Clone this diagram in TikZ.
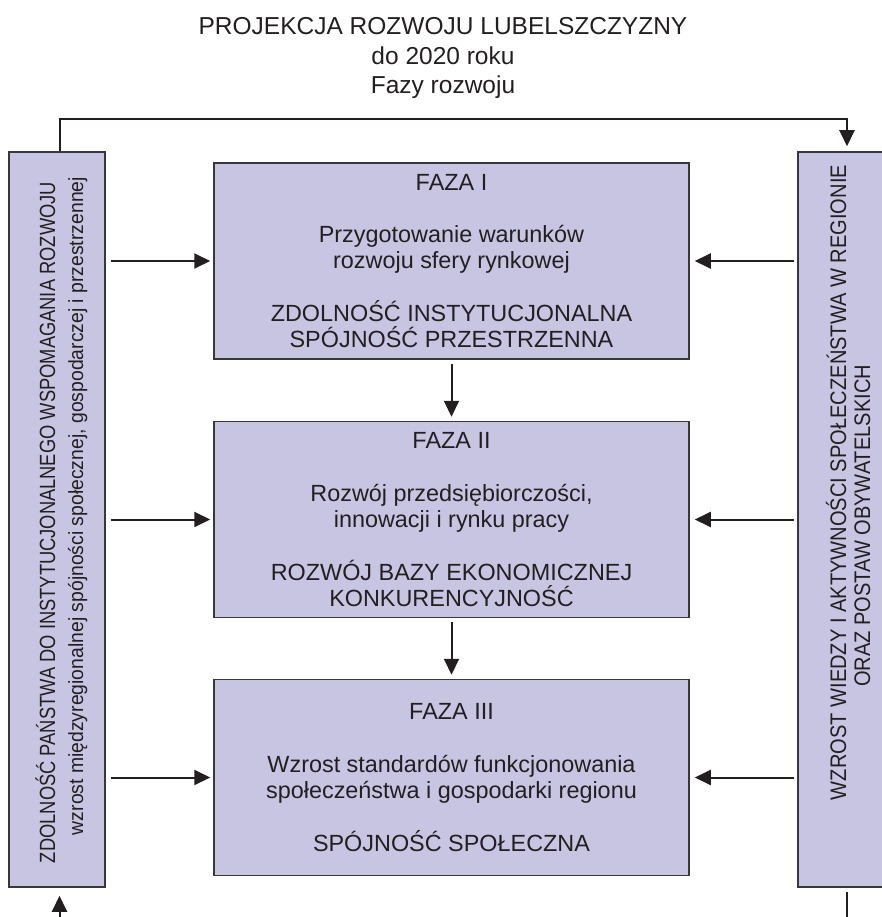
\documentclass[tikz,border=0pt]{standalone}
\usepackage{fontspec}
\setmainfont{Liberation Sans}
\usetikzlibrary{arrows.meta}
\definecolor{boxfill}{RGB}{200,197,226}
\definecolor{ink}{RGB}{35,31,32}
\definecolor{edge}{RGB}{55,55,60}
\newcommand{\fitw}[2]{\resizebox{#1}{\height}{#2}}
\begin{document}
\begin{tikzpicture}[x=1pt,y=-1pt,
  box/.style={draw=edge, line width=1.5pt, fill=boxfill, minimum width=475pt, minimum height=196pt,
    inner sep=0pt, text=ink, align=center, font=\fontsize{23.4}{26.3}\selectfont},
  bar/.style={draw=edge, line width=1.5pt, fill=boxfill, minimum width=96pt, minimum height=735pt, inner sep=0pt},
  arr/.style={draw=ink, line width=2pt, -{Triangle[length=16pt,width=15pt]}},
  plainline/.style={draw=ink, line width=2pt},
  vtext/.style={rotate=90, anchor=base, inner sep=0pt, text=ink}]
\useasboundingbox (0,0) rectangle (881,917);

% title
\node[align=center, text=ink, font=\fontsize{24.5}{29.5}\selectfont] (title) at (443,58)
  {PROJEKCJA ROZWOJU LUBELSZCZYZNY\\do 2020 roku\\Fazy rozwoju};

% side bars
\node[bar] (leftbar) at (57,519.5) {};
\node[bar] (rightbar) at (846,519.5) {};

\node[vtext, font=\fontsize{22}{22}\selectfont] (l1) at (55,522.5)
  {\fitw{681pt}{ZDOLNOŚĆ PAŃSTWA DO INSTYTUCJONALNEGO WSPOMAGANIA ROZWOJU}};
\node[vtext, font=\fontsize{20.5}{20.5}\selectfont] (l2) at (83,506)
  {\fitw{658pt}{wzrost międzyregionalnej spójności społecznej, gospodarczej i przestrzennej}};
\node[vtext, font=\fontsize{22.5}{22.5}\selectfont] (r1) at (846,482.5)
  {\fitw{635pt}{WZROST WIEDZY I AKTYWNOŚCI SPOŁECZEŃSTWA W REGIONIE}};
\node[vtext, font=\fontsize{22.5}{22.5}\selectfont] (r2) at (870,526)
  {\scalebox{0.891}[1]{ORAZ POSTAW OBYWATELSKICH}};

% phase boxes
\node[box] (box1) at (451.5,261) {FAZA I\\[26.3pt]Przygotowanie warunków\\rozwoju sfery rynkowej\\[26.3pt]ZDOLNOŚĆ INSTYTUCJONALNA\\SPÓJNOŚĆ PRZESTRZENNA};
\node[box] (box2) at (451.5,519.5) {FAZA II\\[26.3pt]Rozwój przedsiębiorczości,\\innowacji i rynku pracy\\[26.3pt]ROZWÓJ BAZY EKONOMICZNEJ\\KONKURENCYJNOŚĆ};
\node[box] (box3) at (451.5,777.5) {FAZA III\\[26.3pt]Wzrost standardów funkcjonowania\\społeczeństwa i gospodarki regionu\\[26.3pt]SPÓJNOŚĆ SPOŁECZNA};

% vertical arrows between boxes
\draw[arr] ([yshift=-4pt]box1.south) -- ([yshift=4pt]box2.north);
\draw[arr] ([yshift=-4pt]box2.south) -- ([yshift=4pt]box3.north);

% side arrows
\foreach \b in {box1,box2,box3}{
  \draw[arr] ([xshift=5pt]leftbar.east |- \b.west) -- ([xshift=-3pt]\b.west);
  \draw[arr] ([xshift=-3pt]rightbar.west |- \b.east) -- ([xshift=5pt]\b.east);
}

% top loop
\draw[arr] ([xshift=2.5pt]leftbar.north) -- ++(0,-32) -| ([xshift=1pt,yshift=5pt]rightbar.north);

% bottom stubs
\coordinate (lbot) at (59.5,920);
\coordinate (rbot) at (847,920);
\draw[arr] (lbot) -- ([xshift=2.5pt,yshift=-8pt]leftbar.south);
\draw[plainline] ([xshift=1pt,yshift=-4pt]rightbar.south) -- (rbot);
\end{tikzpicture}
\end{document}
